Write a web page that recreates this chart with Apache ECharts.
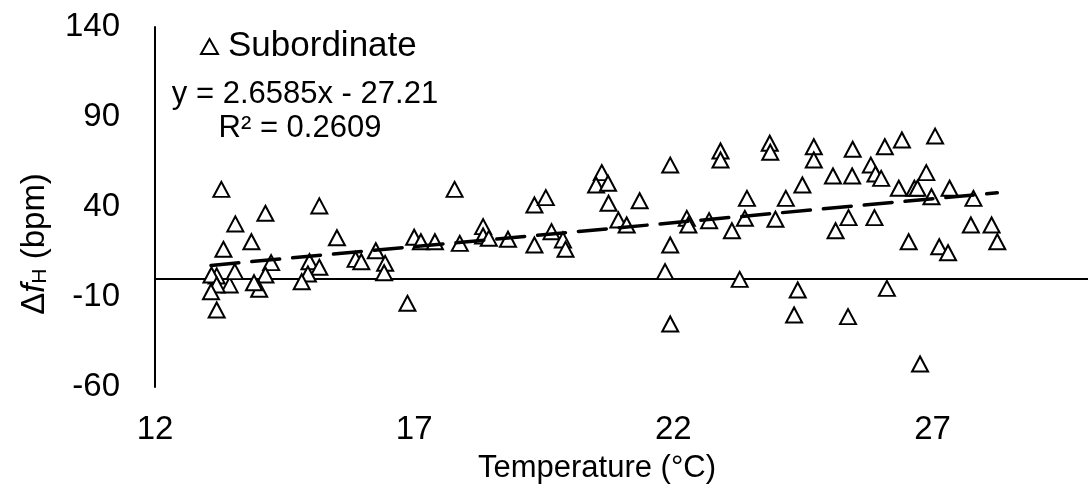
<!DOCTYPE html>
<html>
<head>
<meta charset="utf-8">
<script src="https://cdn.jsdelivr.net/npm/echarts@6/dist/echarts.min.js"></script>
<style>
  html, body { margin: 0; padding: 0; background: #fff; }
  #chart { width: 1088px; height: 498px; }
</style>
</head>
<body>
<div id="chart"></div>
<script>
// Water temperature (°C) for each subordinate fish
const temperature = [
  13.28, 13.55, 14.13, 15.17, 13.86, 13.32, 15.51, 14.24, 14.98, 15.17,
  14.95, 14.83, 14.13, 14.01, 13.91, 13.44, 13.54, 13.19, 13.09, 13.19,
  13.08, 13.19, 15.87, 15.98, 16.26, 16.44, 16.42, 16.87, 17.00, 17.13,
  17.40, 17.88, 17.78, 18.33, 18.33, 18.44, 18.81, 19.32, 19.54, 19.32,
  19.65, 19.87, 19.92, 20.62, 20.51, 20.74, 20.75, 21.35, 20.94, 21.10,
  21.94, 21.94, 21.84, 21.94, 22.26, 22.29, 22.69, 22.91, 22.91, 23.13,
  23.38, 23.42, 23.28, 23.86, 23.87, 23.97, 24.17, 24.49, 24.71, 24.71,
  24.40, 24.33, 25.08, 25.13, 25.46, 25.45, 25.38, 25.37, 25.81, 25.90,
  26.01, 25.88, 26.08, 26.41, 27.05, 26.88, 26.35, 26.65, 26.71, 26.98,
  27.33, 27.79, 27.74, 28.14, 28.25, 26.54, 27.13, 27.30, 26.12, 26.76
];

// Change in heart rate, Δf_H (bpm), same order as temperature
const deltaFH = [
  49.8, 30.6, 36.5, 40.6, 20.7, 16.5, 22.9, 9.1, 9.6, 6.5,
  2.8, -1.5, 2.2, -5.7, -2.1, -3.3, 4.1, 1.7, 2.2, -3.3,
  -7.1, -17.2, 10.9, 9.6, 15.7, 8.7, 3.5, -13.5, 23.2, 20.7,
  20.7, 19.8, 49.8, 29.1, 23.9, 22.6, 22.1, 41.1, 45.2, 18.9,
  26.3, 21.7, 16.5, 59.1, 52.2, 53.2, 42.1, 43.5, 32.8, 30.0,
  63.3, 18.9, 4.1, -25.0, 33.7, 30.0, 32.4, 71.1, 66.1, 26.8,
  33.7, 44.8, -0.2, 75.4, 70.4, 33.2, 44.8, 52.2, 73.5, 66.1,
  -6.1, -20.0, 57.2, 26.8, 72.1, 57.2, 34.1, -20.9, 63.3, 58.3,
  55.9, 34.1, 73.5, 77.2, 79.4, 59.1, 50.4, 50.4, 50.4, 45.7,
  50.4, 44.8, 30.0, 30.0, 20.7, 20.7, 17.9, 14.6, -5.2, -47.2
];

// Linear fit reported on the chart
const trendSlope = 2.6585;
const trendIntercept = -27.21;
const trendR2 = 0.2609;

// Axis tick labels
const xTicks = [12, 17, 22, 27];
const yTicks = [-60, -10, 40, 90, 140];

const seriesName = 'Subordinate';
const FONT = '"Liberation Sans", Arial, sans-serif';

const points = temperature.map((t, i) => [t, deltaFH[i]]);
const tMin = Math.min(...temperature);
const tMax = Math.max(...temperature);
const trendPoints = [tMin, tMax].map(t => [t, trendSlope * t + trendIntercept]);

const chart = echarts.init(document.getElementById('chart'), null, { renderer: 'canvas' });

chart.setOption({
  animation: false,
  backgroundColor: '#ffffff',
  grid: { left: 155, top: 27, width: 936, height: 360, containLabel: false },
  legend: {
    data: [seriesName],
    left: 200,
    top: 29,
    padding: 0,
    itemWidth: 17,
    itemHeight: 15,
    itemGap: 0,
    textStyle: { fontFamily: FONT, fontSize: 35, color: '#000', padding: [0, 0, 0, 5] }
  },
  xAxis: {
    type: 'value',
    min: 12,
    max: 30,
    axisLine: { show: false },
    axisTick: { show: false },
    splitLine: { show: false },
    axisLabel: {
      customValues: xTicks,
      margin: 26,
      fontFamily: FONT,
      fontSize: 33,
      color: '#000'
    }
  },
  yAxis: {
    type: 'value',
    min: -60,
    max: 140,
    axisLine: { show: true, onZero: false, lineStyle: { color: '#000', width: 2 } },
    axisTick: { show: false },
    splitLine: { show: false },
    axisLabel: {
      customValues: yTicks,
      margin: 35,
      fontFamily: FONT,
      fontSize: 33,
      color: '#000'
    }
  },
  series: [
    {
      name: seriesName,
      type: 'scatter',
      data: points,
      symbol: 'triangle',
      symbolSize: [16, 15],
      itemStyle: { color: '#ffffff', borderColor: '#000', borderWidth: 2, opacity: 1 },
      z: 3,
      markLine: {
        silent: true,
        symbol: 'none',
        label: { show: false },
        lineStyle: { color: '#000', width: 2, type: 'solid' },
        data: [{ yAxis: 0 }],
        z: 1
      }
    },
    {
      name: 'Linear fit',
      type: 'line',
      data: trendPoints,
      showSymbol: false,
      silent: true,
      lineStyle: { color: '#000', width: 3.5, type: [28, 13], cap: 'round' },
      z: 4
    }
  ],
  graphic: [
    {
      type: 'text',
      x: 305, y: 94,
      style: {
        text: 'y = ' + trendSlope + 'x - ' + Math.abs(trendIntercept),
        font: '31px ' + FONT,
        fill: '#000',
        align: 'center',
        verticalAlign: 'middle'
      }
    },
    {
      type: 'text',
      x: 300, y: 128,
      style: {
        text: 'R\u00B2 = ' + trendR2,
        font: '31px ' + FONT,
        fill: '#000',
        align: 'center',
        verticalAlign: 'middle'
      }
    },
    {
      type: 'text',
      x: 597, y: 468,
      style: {
        text: 'Temperature (\u00B0C)',
        font: '31px ' + FONT,
        fill: '#000',
        align: 'center',
        verticalAlign: 'middle'
      }
    },
    {
      type: 'text',
      x: 35, y: 244,
      rotation: Math.PI / 2,
      style: {
        text: '{a|\u0394}{b|f}{c|H}{a| (bpm)}',
        align: 'center',
        verticalAlign: 'middle',
        fill: '#000',
        rich: {
          a: { fontFamily: FONT, fontSize: 33, lineHeight: 40, verticalAlign: 'middle', fill: '#000' },
          b: { fontFamily: FONT, fontSize: 33, fontStyle: 'italic', lineHeight: 40, verticalAlign: 'middle', fill: '#000' },
          c: { fontFamily: FONT, fontSize: 21, verticalAlign: 'bottom', padding: [0, 0, 4, 0], fill: '#000' }
        }
      }
    }
  ]
});
</script>
</body>
</html>
